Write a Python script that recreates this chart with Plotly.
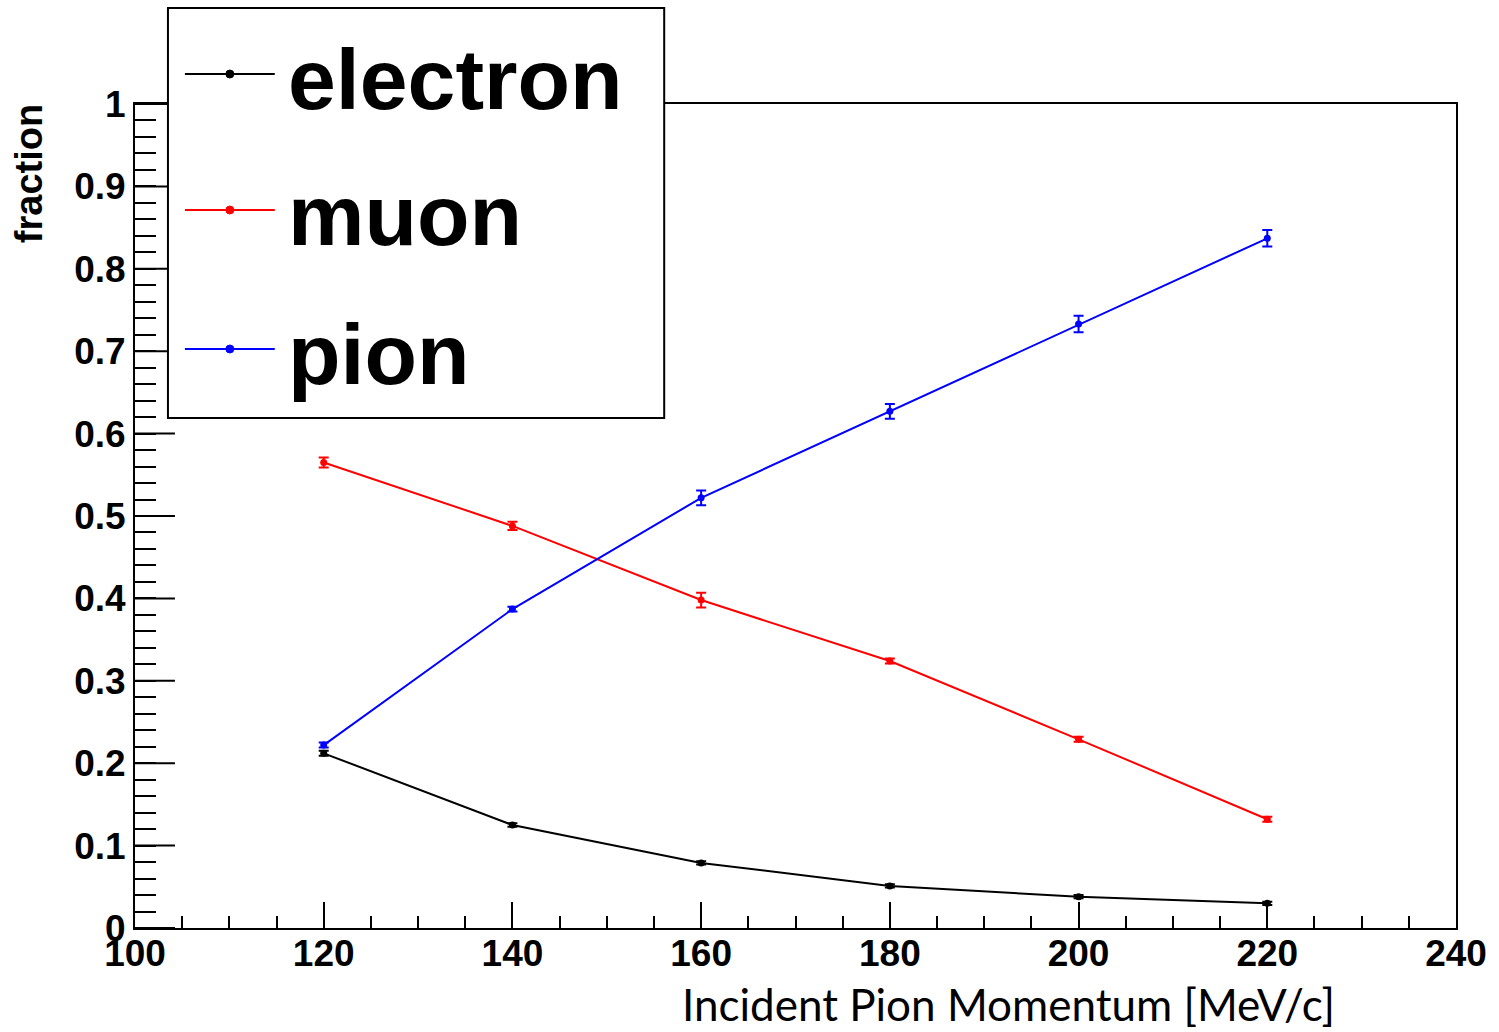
import plotly.graph_objects as go

momentum = [120, 140, 160, 180, 200, 220]
electron = [0.212, 0.125, 0.079, 0.051, 0.038, 0.030]
electron_err = [0.003, 0.002, 0.002, 0.002, 0.002, 0.002]
muon = [0.565, 0.488, 0.398, 0.324, 0.229, 0.132]
muon_err = [0.006, 0.005, 0.009, 0.003, 0.003, 0.003]
pion = [0.222, 0.387, 0.522, 0.627, 0.733, 0.837]
pion_err = [0.003, 0.003, 0.009, 0.009, 0.010, 0.010]

series_names = ["electron", "muon", "pion"]
series_colors = ["#000000", "#ff0000", "#0000ff"]

x_range = [100, 240]
y_range = [0, 1]
y_major = [0, 0.1, 0.2, 0.3, 0.4, 0.5, 0.6, 0.7, 0.8, 0.9, 1.0]

W, H = 1499, 1032
L, R, T, B = 135, 41, 104, 104
PW, PH = W - L - R, H - T - B

fig = go.Figure()
for name, vals, errs, col in zip(series_names, [electron, muon, pion],
                                 [electron_err, muon_err, pion_err], series_colors):
    fig.add_trace(go.Scatter(
        x=momentum, y=vals, mode="lines+markers", name=name,
        line=dict(color=col, width=2),
        marker=dict(color=col, size=7, symbol="circle"),
        error_y=dict(type="data", array=errs, color=col, thickness=2, width=5),
        showlegend=False,
    ))

tick_font = dict(family="Liberation Sans, Arial, sans-serif", size=37, color="black", weight="bold")

fig.update_layout(
    width=W, height=H,
    margin=dict(l=L, r=R, t=T, b=B),
    paper_bgcolor="white", plot_bgcolor="white",
    xaxis=dict(
        range=x_range, tickmode="linear", tick0=100, dtick=20,
        ticks="inside", ticklen=26, tickwidth=2, tickcolor="black",
        minor=dict(ticks="inside", ticklen=12, tickwidth=2, tickcolor="black", dtick=5, tick0=100),
        showgrid=False, zeroline=False,
        showline=True, linecolor="black", linewidth=2, mirror=True,
        tickfont=tick_font, ticklabelstandoff=-8,
    ),
    yaxis=dict(
        range=y_range, tickmode="linear", tick0=0, dtick=0.1,
        ticks="inside", ticklen=21, tickwidth=2, tickcolor="black",
        minor=dict(ticks="inside", ticklen=21, tickwidth=2, tickcolor="black", dtick=0.02, tick0=0),
        showgrid=False, zeroline=False,
        showline=True, linecolor="black", linewidth=2, mirror=True,
        tickfont=tick_font,
    ),
)

def px_x(p):
    return (p - L) / PW

def px_y(p):
    return (H - B - p) / PH

# longer major ticks on the y axis (ROOT style)
for v in y_major:
    fig.add_shape(type="line", xref="paper", yref="y",
                  x0=0, x1=40 / PW, y0=v, y1=v,
                  line=dict(color="black", width=2), layer="above")

# legend box
fig.add_shape(type="rect", xref="paper", yref="paper",
              x0=px_x(168), x1=px_x(665), y0=px_y(418), y1=px_y(8),
              line=dict(color="black", width=2), fillcolor="white", layer="above")

legend_rows = [74, 210, 349]
for name, col, yy in zip(series_names, series_colors, legend_rows):
    fig.add_shape(type="line", xref="paper", yref="paper",
                  x0=px_x(185), x1=px_x(275), y0=px_y(yy), y1=px_y(yy),
                  line=dict(color=col, width=2), layer="above")
    fig.add_shape(type="circle", xref="paper", yref="paper",
                  x0=px_x(226), x1=px_x(234), y0=px_y(yy + 4), y1=px_y(yy - 4),
                  line=dict(color=col, width=1), fillcolor=col, layer="above")
    fig.add_annotation(xref="paper", yref="paper", x=px_x(286), y=px_y(yy + 5),
                       text=name, showarrow=False, xanchor="left", yanchor="middle",
                       font=dict(family="Liberation Sans, Arial, sans-serif", size=86,
                                 color="black", weight="bold"))

# y-axis title (ROOT style, aligned at top)
fig.add_annotation(xref="paper", yref="paper", x=px_x(29), y=px_y(174),
                   text="fraction", showarrow=False, textangle=-90,
                   xanchor="center", yanchor="middle",
                   font=dict(family="Liberation Sans, Arial, sans-serif", size=38,
                             color="black", weight="bold"))

# x-axis title
fig.add_annotation(xref="paper", yref="paper", x=px_x(1010), y=px_y(1004),
                   text="Incident Pion Momentum [MeV/c]", showarrow=False,
                   xanchor="center", yanchor="middle",
                   font=dict(family="Lato, sans-serif", size=44, color="black"))

fig.write_html("out.html")
